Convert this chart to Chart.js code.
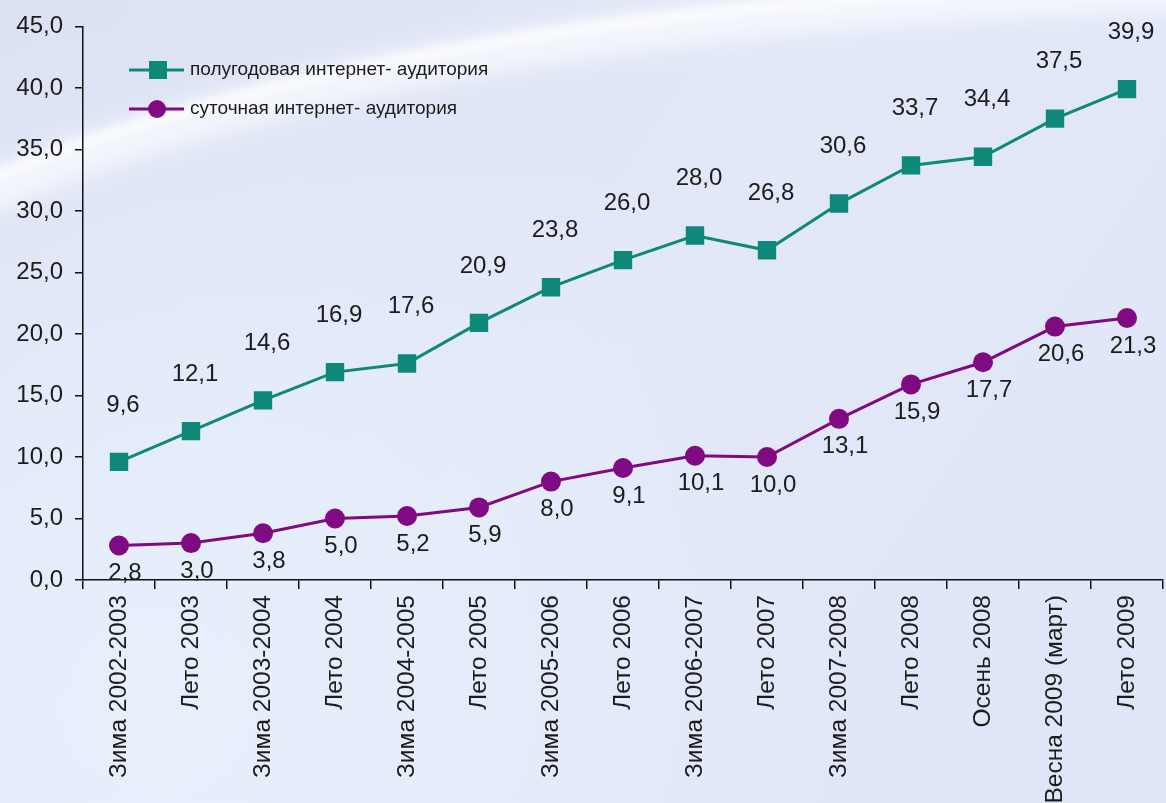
<!DOCTYPE html>
<html>
<head>
<meta charset="utf-8">
<script src="https://cdn.jsdelivr.net/npm/chart.js@4.4.1/dist/chart.umd.min.js"></script>
<style>
html,body{margin:0;padding:0;background:#e2e8f7;overflow:hidden;}
canvas{display:block;}
</style>
</head>
<body>
<canvas id="c" width="1166" height="803"></canvas>
<script>
const categories = [
  "Зима 2002-2003", "Лето 2003", "Зима 2003-2004", "Лето 2004", "Зима 2004-2005",
  "Лето 2005", "Зима 2005-2006", "Лето 2006", "Зима 2006-2007", "Лето 2007",
  "Зима 2007-2008", "Лето 2008", "Осень 2008", "Весна 2009 (март)", "Лето 2009"
];
const halfYearAudience = [9.6, 12.1, 14.6, 16.9, 17.6, 20.9, 23.8, 26.0, 28.0, 26.8, 30.6, 33.7, 34.4, 37.5, 39.9];
const dailyAudience = [2.8, 3.0, 3.8, 5.0, 5.2, 5.9, 8.0, 9.1, 10.1, 10.0, 13.1, 15.9, 17.7, 20.6, 21.3];
const seriesNames = ["полугодовая интернет- аудитория", "суточная интернет- аудитория"];
const yMin = 0, yMax = 45, yStep = 5;

const TEAL = '#0e8878';
const PURPLE = '#800a82';
const FONT = '"Liberation Sans", Arial, sans-serif';
const fmt = v => Number(v).toFixed(1).replace('.', ',');

const bgPlugin = {
  id: 'bg',
  beforeDraw(chart) {
    const ctx = chart.ctx, w = chart.width, h = chart.height;
    ctx.save();
    const g = ctx.createLinearGradient(0, 0, w, h);
    g.addColorStop(0, '#dce1f3');
    g.addColorStop(0.5, '#e2e8f8');
    g.addColorStop(1, '#dfe6f7');
    ctx.fillStyle = g;
    ctx.fillRect(0, 0, w, h);
    const g2 = ctx.createRadialGradient(150, 700, 50, 150, 700, 700);
    g2.addColorStop(0, 'rgba(232,240,252,0.9)');
    g2.addColorStop(1, 'rgba(232,240,252,0)');
    ctx.fillStyle = g2;
    ctx.fillRect(0, 0, w, h);
    ctx.filter = 'blur(14px)';
    ctx.strokeStyle = 'rgba(255,255,255,0.75)';
    ctx.lineWidth = 34;
    ctx.beginPath();
    ctx.moveTo(-60, 215);
    ctx.quadraticCurveTo(380, 10, 1220, -10);
    ctx.stroke();
    ctx.filter = 'blur(5px)';
    ctx.strokeStyle = 'rgba(255,255,255,0.8)';
    ctx.lineWidth = 10;
    ctx.beginPath();
    ctx.moveTo(-60, 200);
    ctx.quadraticCurveTo(380, 0, 1220, -20);
    ctx.stroke();
    ctx.filter = 'none';
    ctx.restore();
  }
};

const labelPlugin = {
  id: 'valueLabels',
  afterDatasetsDraw(chart) {
    const ctx = chart.ctx;
    ctx.save();
    ctx.font = '24px ' + FONT;
    ctx.fillStyle = '#1c1c1c';
    ctx.textAlign = 'center';
    ctx.textBaseline = 'middle';
    chart.data.datasets.forEach((ds, i) => {
      const meta = chart.getDatasetMeta(i);
      const dy = i === 0 ? -57 : 28;
      const dx = i === 0 ? 4 : 6;
      meta.data.forEach((pt, j) => {
        ctx.fillText(fmt(ds.data[j]), pt.x + dx, pt.y + dy);
      });
    });
    ctx.restore();
  }
};

const legendPlugin = {
  id: 'inlineLegend',
  afterDraw(chart) {
    const ctx = chart.ctx;
    ctx.save();
    chart.data.datasets.forEach((ds, i) => {
      const y = 70 + 39 * i;
      ctx.strokeStyle = ds.borderColor;
      ctx.lineWidth = 3;
      ctx.beginPath();
      ctx.moveTo(129, y);
      ctx.lineTo(184, y);
      ctx.stroke();
      ctx.fillStyle = ds.backgroundColor;
      if (ds.pointStyle === 'rect') {
        ctx.fillRect(149, y - 9, 18, 18);
      } else {
        ctx.beginPath();
        ctx.arc(157, y, 9, 0, Math.PI * 2);
        ctx.fill();
      }
      ctx.fillStyle = '#1c1c1c';
      ctx.font = '19px ' + FONT;
      ctx.textAlign = 'left';
      ctx.textBaseline = 'middle';
      ctx.fillText(ds.label, 190, y);
    });
    ctx.restore();
  }
};

new Chart(document.getElementById('c'), {
  type: 'line',
  data: {
    labels: categories,
    datasets: [
      {
        label: seriesNames[0],
        data: halfYearAudience,
        borderColor: TEAL,
        backgroundColor: TEAL,
        borderWidth: 3,
        pointStyle: 'rect',
        pointRadius: 13,
        pointHoverRadius: 13,
        pointBorderWidth: 0,
        tension: 0
      },
      {
        label: seriesNames[1],
        data: dailyAudience,
        borderColor: PURPLE,
        backgroundColor: PURPLE,
        borderWidth: 3,
        pointStyle: 'circle',
        pointRadius: 10,
        pointHoverRadius: 10,
        pointBorderWidth: 0,
        tension: 0
      }
    ]
  },
  options: {
    responsive: false,
    animation: false,
    devicePixelRatio: 1,
    layout: { autoPadding: false, padding: { top: 23, right: 3, left: 0, bottom: 0 } },
    plugins: { legend: { display: false }, tooltip: { enabled: false } },
    scales: {
      x: {
        type: 'category',
        offset: true,
        border: { color: '#111', width: 1.5 },
        grid: { display: true, drawOnChartArea: false, drawTicks: true, tickLength: 9, color: '#111', lineWidth: 1.5, offset: true },
        ticks: {
          autoSkip: false,
          minRotation: 90,
          maxRotation: 90,
          padding: 6,
          color: '#1c1c1c',
          font: { family: FONT, size: 24.5 }
        },
        afterFit(scale) { scale.height = 223; scale.paddingRight = 0; scale.paddingLeft = 0; }
      },
      y: {
        min: yMin,
        max: yMax,
        border: { color: '#111', width: 1.5 },
        grid: { display: true, drawOnChartArea: false, drawTicks: true, tickLength: 8, color: '#111', lineWidth: 1.5 },
        ticks: {
          stepSize: yStep,
          padding: 12,
          color: '#1c1c1c',
          font: { family: FONT, size: 24 },
          callback: v => fmt(v)
        },
        afterFit(scale) { scale.width = 83; }
      }
    }
  },
  plugins: [bgPlugin, labelPlugin, legendPlugin]
});
</script>
</body>
</html>
